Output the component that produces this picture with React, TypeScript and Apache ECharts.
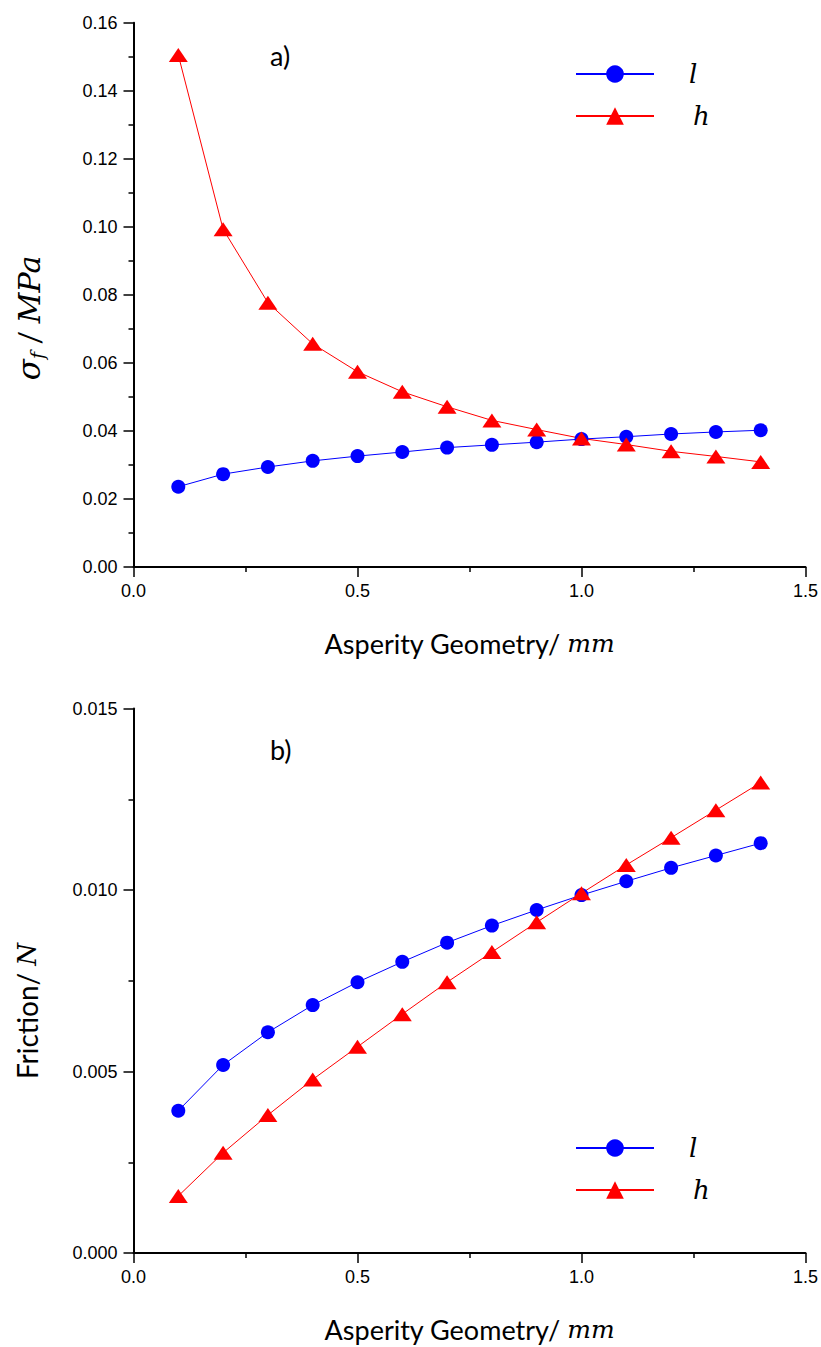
import React, { useEffect, useRef } from "react";
import * as echarts from "echarts";

// ---- data ----
const asperity = [0.1, 0.2, 0.3, 0.4, 0.5, 0.6, 0.7, 0.8, 0.9, 1.0, 1.1, 1.2, 1.3, 1.4];
const stressL = [0.0236, 0.0273, 0.0294, 0.0312, 0.0326, 0.0338, 0.0351, 0.0359, 0.0367, 0.0376, 0.0383, 0.0391, 0.0397, 0.0402];
const stressH = [0.1505, 0.0993, 0.0777, 0.0656, 0.0574, 0.0515, 0.0471, 0.0431, 0.0404, 0.0378, 0.036, 0.034, 0.0325, 0.0309];
const frictionL = [0.00392, 0.00518, 0.00608, 0.00683, 0.00746, 0.00802, 0.00855, 0.00902, 0.00945, 0.00986, 0.01024, 0.01061, 0.01095, 0.01129];
const frictionH = [0.00157, 0.00276, 0.0038, 0.00478, 0.00568, 0.00658, 0.00746, 0.00829, 0.00911, 0.00991, 0.01069, 0.01144, 0.0122, 0.01296];
const seriesNames = ["l", "h"];
const panelLabels = ["a)", "b)"];

const BLUE = "#0000ff";
const RED = "#ff0000";
const SANS = "Lato, 'Liberation Sans', sans-serif";
const TICK_FONT = "'Liberation Sans', Arial, sans-serif";
const MATH = "'DejaVu Serif', serif";

const pairs = (ys: number[]) => asperity.map((x, i) => [x, ys[i]]);

export default function App() {
  const ref = useRef<HTMLDivElement>(null);
  useEffect(() => {
    if (!ref.current) return;
    const chart = echarts.init(ref.current, undefined, { renderer: "svg" });

    const tick = { show: true, inside: false, length: 10, lineStyle: { color: "#000", width: 1.5 } };
    const minor = { show: true, splitNumber: 2, length: 5, lineStyle: { color: "#000", width: 1.5 } };
    const axisLine = { show: true, onZero: false, lineStyle: { color: "#000", width: 2 } };

    const xAxisBase = (gridIndex: number) => ({
      type: "value",
      gridIndex,
      min: 0,
      max: 1.5,
      interval: 0.5,
      axisLine,
      axisTick: tick,
      minorTick: minor,
      splitLine: { show: false },
      axisLabel: {
        margin: 15,
        fontFamily: TICK_FONT,
        fontSize: 18,
        color: "#000",
        formatter: (v: number) => v.toFixed(1),
      },
      name: "{a|Asperity Geometry/ }{b|mm}",
      nameLocation: "middle",
      nameGap: 63,
      nameTextStyle: {
        lineHeight: 26,
        rich: {
          a: { fontFamily: SANS, fontSize: 27, color: "#000", lineHeight: 26 },
          b: { fontFamily: MATH, fontStyle: "italic", fontSize: 25, color: "#000", lineHeight: 26 },
        },
      },
    });

    const legendBase = (top: number) => ({
      data: seriesNames,
      orient: "vertical",
      left: 570,
      top,
      itemWidth: 78,
      itemHeight: 22,
      itemGap: 12,
      formatter: (n: string) => (n === "l" ? "{l|l}" : "{h|h}"),
      lineStyle: { width: 2 },
      textStyle: {
        lineHeight: 30,
        rich: {
          l: { fontFamily: MATH, fontStyle: "italic", fontSize: 26, color: "#000", padding: [0, 0, 0, 30], lineHeight: 30 },
          h: { fontFamily: MATH, fontStyle: "italic", fontSize: 26, color: "#000", padding: [0, 0, 0, 34], lineHeight: 30 },
        },
      },
    });

    const lSeries = (xi: number, ys: number[]) => ({
      name: "l",
      type: "line",
      xAxisIndex: xi,
      yAxisIndex: xi,
      data: pairs(ys),
      symbol: "circle",
      symbolSize: 14,
      itemStyle: { color: BLUE },
      lineStyle: { color: BLUE, width: 1 },
    });
    const hSeries = (xi: number, ys: number[]) => ({
      name: "h",
      type: "line",
      xAxisIndex: xi,
      yAxisIndex: xi,
      data: pairs(ys),
      symbol: "triangle",
      symbolSize: [19, 14],
      itemStyle: { color: RED },
      lineStyle: { color: RED, width: 1 },
    });

    chart.setOption({
      animation: false,
      backgroundColor: "#fff",
      grid: [
        { left: 133.5, top: 22.7, width: 672.5, height: 544.3 },
        { left: 133.5, top: 708.5, width: 672.5, height: 544.5 },
      ],
      xAxis: [xAxisBase(0), xAxisBase(1)],
      yAxis: [
        {
          type: "value",
          gridIndex: 0,
          min: 0,
          max: 0.16,
          interval: 0.02,
          axisLine,
          axisTick: tick,
          minorTick: minor,
          splitLine: { show: false },
          axisLabel: { margin: 16, fontFamily: TICK_FONT, fontSize: 18, color: "#000", formatter: (v: number) => v.toFixed(2) },
        },
        {
          type: "value",
          gridIndex: 1,
          min: 0,
          max: 0.015,
          interval: 0.005,
          axisLine,
          axisTick: tick,
          minorTick: minor,
          splitLine: { show: false },
          axisLabel: { margin: 16, fontFamily: TICK_FONT, fontSize: 18, color: "#000", formatter: (v: number) => v.toFixed(3) },
        },
      ],
      legend: [legendBase(54), legendBase(1128)],
      series: [lSeries(0, stressL), hSeries(0, stressH), lSeries(1, frictionL), hSeries(1, frictionH)],
      graphic: [
        {
          type: "text",
          x: 270,
          y: 55,
          style: { text: panelLabels[0], font: `27px ${SANS}`, fill: "#000", align: "left", verticalAlign: "middle" },
        },
        {
          type: "text",
          x: 270,
          y: 749,
          style: { text: panelLabels[1], font: `27px ${SANS}`, fill: "#000", align: "left", verticalAlign: "middle" },
        },
        {
          type: "text",
          x: 29,
          y: 318,
          rotation: Math.PI / 2,
          style: {
            text: "{s|σ}{f|f}{r| / }{m|MPa}",
            align: "center",
            verticalAlign: "middle",
            rich: {
              s: { fontFamily: MATH, fontStyle: "italic", fontSize: 31, fill: "#000", lineHeight: 34 },
              f: { fontFamily: MATH, fontStyle: "italic", fontSize: 19, fill: "#000", lineHeight: 16, verticalAlign: "bottom" },
              r: { fontFamily: SANS, fontSize: 30, fill: "#000", lineHeight: 34 },
              m: { fontFamily: MATH, fontStyle: "italic", fontSize: 30, fill: "#000", lineHeight: 34 },
            },
          },
        },
        {
          type: "text",
          x: 27,
          y: 1011,
          rotation: Math.PI / 2,
          style: {
            text: "{a|Friction/ }{b|N}",
            align: "center",
            verticalAlign: "middle",
            rich: {
              a: { fontFamily: SANS, fontSize: 28, fill: "#000" },
              b: { fontFamily: MATH, fontStyle: "italic", fontSize: 26, fill: "#000" },
            },
          },
        },
      ],
    });
    return () => chart.dispose();
  }, []);

  return <div ref={ref} style={{ position: "absolute", left: 0, top: 0, width: 821, height: 1347, background: "#fff" }} />;
}
